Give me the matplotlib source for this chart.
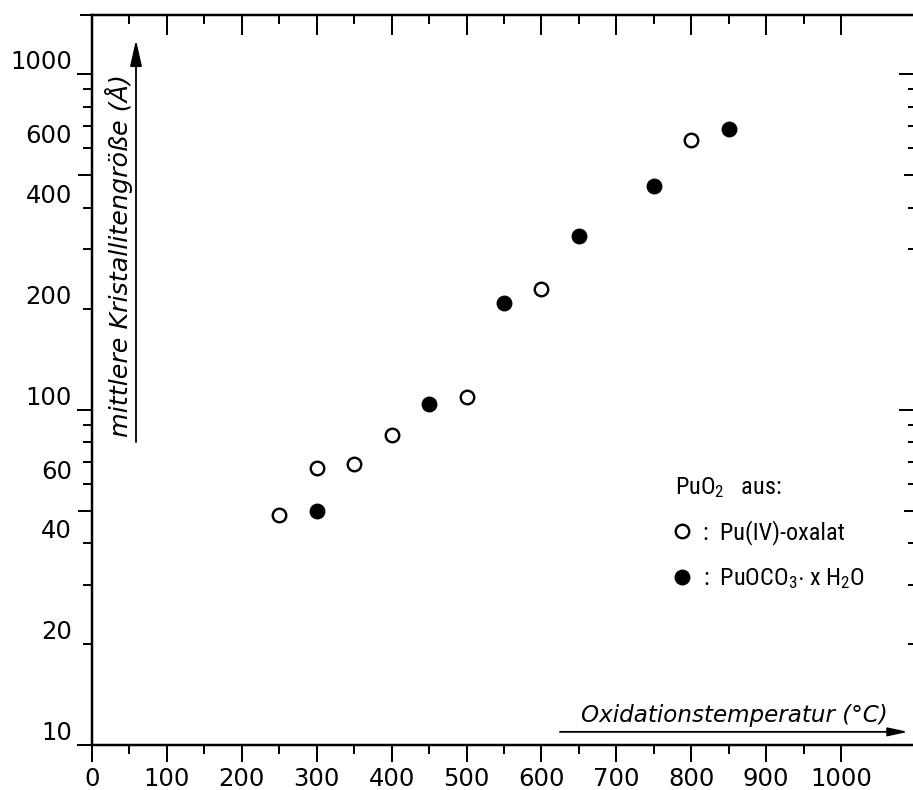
import matplotlib
matplotlib.use("Agg")
import matplotlib.pyplot as plt
from matplotlib.ticker import FixedLocator, NullFormatter

# values
oxalat_T = [250, 300, 350, 400, 500, 600, 800]
oxalat_d = [48.5, 67, 69, 84, 109, 228, 637]
carbonat_T = [300, 450, 550, 650, 750, 850]
carbonat_d = [50, 104, 208, 328, 465, 687]

x_ticks = list(range(0, 1001, 100))
x_minor = list(range(50, 1000, 100))
y_labeled = [10, 20, 40, 60, 100, 200, 400, 600, 1000]
y_minor_left = [30, 50, 70, 80, 90, 300, 500, 700, 800, 900, 1500]
y_long_left = [10, 50, 100, 500, 1000]
y_right_major = [50, 100, 500, 1000]
y_right_minor = [20, 30, 40, 60, 70, 80, 90, 300, 400, 600, 700, 800, 900]

plt.rcParams['mathtext.fontset'] = 'custom'
plt.rcParams['mathtext.rm'] = 'Roboto Condensed'
plt.rcParams['mathtext.it'] = 'Roboto Condensed:italic'

label_font = ['DejaVu Sans']
legend_font = ['Roboto Condensed', 'Liberation Sans', 'DejaVu Sans']
PX = 72 / 100  # points per pixel

fig = plt.figure(figsize=(9.13, 7.90), dpi=100)
ax = fig.add_axes([92 / 913, 45 / 790, 821 / 913, 730 / 790])

ax.plot(oxalat_T, oxalat_d, 'o', ms=13.5 * PX, mfc='white', mec='black', mew=2.4 * PX,
        label=':  Pu(IV)-oxalat', clip_on=False)
ax.plot(carbonat_T, carbonat_d, 'o', ms=14.5 * PX, mfc='black', mec='black',
        label=r':  PuOCO$_3$$\cdot$ x H$_2$O', clip_on=False)

ax.set_yscale('log')
ax.set_xlim(0, 1096)
ax.set_ylim(10, 1500)

ax.set_xticks(x_ticks)
ax.set_xticklabels([str(v) for v in x_ticks], fontsize=17.5, family=label_font)
ax.xaxis.set_minor_locator(FixedLocator(x_minor))
ax.set_yticks(y_labeled)
ax.set_yticklabels([str(v) for v in y_labeled], fontsize=17.5, family=label_font, va='bottom')
ax.yaxis.set_minor_locator(FixedLocator(y_minor_left))
ax.yaxis.set_minor_formatter(NullFormatter())

ax.tick_params(axis='x', which='major', direction='out', length=17 * PX, width=2 * PX, pad=5 * PX)
ax.tick_params(axis='x', which='minor', direction='out', length=9 * PX, width=2 * PX)
ax.tick_params(axis='y', which='major', direction='out', length=9 * PX, width=2 * PX, pad=11 * PX)
ax.tick_params(axis='y', which='minor', direction='out', length=9 * PX, width=2 * PX)
ax.tick_params(top=False, right=False, which='both')

for side in ['left', 'bottom', 'top']:
    ax.spines[side].set_linewidth(2.5 * PX)
ax.spines['right'].set_visible(False)

# right side ticks pointing inward
ax_r = ax.twinx()
ax_r.set_yscale('log')
ax_r.set_ylim(ax.get_ylim())
ax_r.yaxis.set_major_locator(FixedLocator(y_right_major))
ax_r.yaxis.set_minor_locator(FixedLocator(y_right_minor))
ax_r.yaxis.set_major_formatter(NullFormatter())
ax_r.yaxis.set_minor_formatter(NullFormatter())
ax_r.tick_params(axis='y', which='major', direction='in', length=14 * PX, width=2 * PX)
ax_r.tick_params(axis='y', which='minor', direction='in', length=5 * PX, width=2 * PX)
for s in ax_r.spines.values():
    s.set_visible(False)

# top ticks pointing inward
ax_t = ax.twiny()
ax_t.set_xlim(ax.get_xlim())
ax_t.xaxis.set_major_locator(FixedLocator(x_ticks[1:]))
ax_t.xaxis.set_minor_locator(FixedLocator(x_minor))
ax_t.xaxis.set_major_formatter(NullFormatter())
ax_t.tick_params(axis='x', which='major', direction='in', length=20 * PX, width=2 * PX)
ax_t.tick_params(axis='x', which='minor', direction='in', length=9 * PX, width=2 * PX)
for s in ax_t.spines.values():
    s.set_visible(False)

# longer ticks at decades and halves
for tick, loc in zip(ax.yaxis.get_major_ticks(), ax.yaxis.get_majorticklocs()):
    if loc in y_long_left:
        tick.tick1line.set_markersize(15 * PX)
for tick, loc in zip(ax.yaxis.get_minor_ticks(), ax.yaxis.get_minorticklocs()):
    if loc in y_long_left:
        tick.tick1line.set_markersize(14 * PX)
    if loc == 1500:
        tick.tick1line.set_markersize(12 * PX)
for tick, loc in zip(ax_r.yaxis.get_major_ticks(), ax_r.yaxis.get_majorticklocs()):
    if loc in (50, 500):
        tick.tick2line.set_markersize(9 * PX)

# axis labels with arrows
ax.text(0.0325, 0.671, 'mittlere Kristallitengröße (Å)', rotation=90, style='italic',
        fontsize=18.3, family=label_font, ha='center', va='center', transform=ax.transAxes)
ax.annotate('', xy=(0.0536, 0.966), xytext=(0.0536, 0.415), xycoords='axes fraction',
            arrowprops=dict(arrowstyle='-|>,head_length=1.6,head_width=0.36',
                            color='black', lw=1.3, shrinkA=0, shrinkB=0))
ax.text(0.783, 0.0315, 'Oxidationstemperatur (°C)', style='italic', fontsize=16.6,
        family=label_font, ha='center', va='baseline', transform=ax.transAxes)
ax.annotate('', xy=(0.994, 0.018), xytext=(0.570, 0.018), xycoords='axes fraction',
            arrowprops=dict(arrowstyle='-|>,head_length=1.2,head_width=0.26',
                            color='black', lw=1.3, shrinkA=0, shrinkB=0))

leg = ax.legend(loc='upper left', bbox_to_anchor=(0.710, 0.370), frameon=False,
                title='PuO$_2$   aus:', alignment='left', numpoints=1,
                handlelength=0.62, handletextpad=0.55, labelspacing=0.85,
                borderpad=0, borderaxespad=0,
                prop=dict(family=legend_font, size=17.5))
leg.get_title().set_fontproperties(dict(family=legend_font, size=17.5))

fig.savefig('out.png', dpi=100)
